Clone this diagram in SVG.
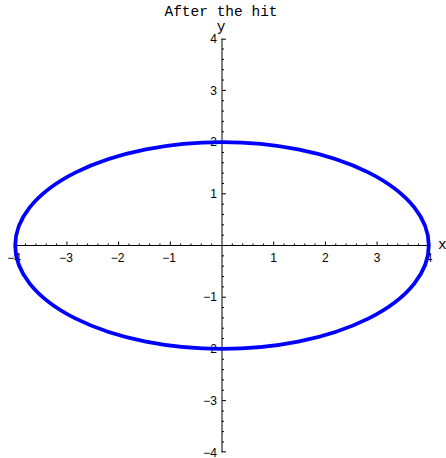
<svg xmlns="http://www.w3.org/2000/svg" width="446" height="458" viewBox="0 0 446 458">
<style>
.ax{stroke:#000;stroke-width:1;fill:none}
.num{font-family:"Liberation Sans",Arial,sans-serif;font-size:12px;fill:#000}
.mono{font-family:"Liberation Mono","Courier New",monospace;font-size:14.5px;fill:#000}
.xl{text-anchor:middle}
.yl{text-anchor:end}
</style>
<rect width="446" height="458" fill="#fff"/>
<text class="mono" x="221" y="16" text-anchor="middle">After the hit</text>
<g id="axes">
<line class="ax" x1="15.2" y1="245.5" x2="428.8" y2="245.5"/>
<line class="ax" x1="222" y1="38.7" x2="222" y2="452.3"/>
<path class="ax" d="M25.54 245.5v-2M35.88 245.5v-2M46.22 245.5v-2M56.56 245.5v-2M77.24 245.5v-2M87.58 245.5v-2M97.92 245.5v-2M108.26 245.5v-2M128.94 245.5v-2M139.28 245.5v-2M149.62 245.5v-2M159.96 245.5v-2M180.64 245.5v-2M190.98 245.5v-2M201.32 245.5v-2M211.66 245.5v-2M232.34 245.5v-2M242.68 245.5v-2M253.02 245.5v-2M263.36 245.5v-2M284.04 245.5v-2M294.38 245.5v-2M304.72 245.5v-2M315.06 245.5v-2M335.74 245.5v-2M346.08 245.5v-2M356.42 245.5v-2M366.76 245.5v-2M387.44 245.5v-2M397.78 245.5v-2M408.12 245.5v-2M418.46 245.5v-2"/>
<path class="ax" d="M15.7 245.5v-4M66.9 245.5v-4M118.6 245.5v-4M170.3 245.5v-4M273.7 245.5v-4M325.4 245.5v-4M377.1 245.5v-4M428.3 245.5v-4"/>
<path class="ax" d="M222 49.04h2M222 59.38h2M222 69.72h2M222 80.06h2M222 100.74h2M222 111.08h2M222 121.42h2M222 131.76h2M222 152.44h2M222 162.78h2M222 173.12h2M222 183.46h2M222 204.14h2M222 214.48h2M222 224.82h2M222 235.16h2M222 255.84h2M222 266.18h2M222 276.52h2M222 286.86h2M222 307.54h2M222 317.88h2M222 328.22h2M222 338.56h2M222 359.24h2M222 369.58h2M222 379.92h2M222 390.26h2M222 410.94h2M222 421.28h2M222 431.62h2M222 441.96h2"/>
<path class="ax" d="M221.5 39.2h4.5M222 90.4h4M222 142.1h4M222 193.8h4M222 297.2h4M222 348.9h4M222 400.6h4M221.5 451.8h4.5"/>
<text class="mono" x="221" y="31" text-anchor="middle">y</text>
<text class="mono" x="438" y="249">x</text>
<g class="num xl">
<text x="14" y="262">−4</text>
<text x="66" y="262">−3</text>
<text x="117.5" y="262">−2</text>
<text x="169" y="262">−1</text>
<text x="273.7" y="262">1</text>
<text x="325.4" y="262">2</text>
<text x="377.1" y="262">3</text>
<text x="429" y="262">4</text>
</g>
<g class="num yl">
<text x="217" y="43">4</text>
<text x="217" y="94.6">3</text>
<text x="217" y="146.3">2</text>
<text x="217" y="198">1</text>
<text x="217" y="301.4">−1</text>
<text x="217" y="353.1">−2</text>
<text x="217" y="404.8">−3</text>
<text x="217" y="456.5">−4</text>
</g>
</g>
<g id="curve">
<ellipse cx="222" cy="245.5" rx="206.8" ry="103.4" fill="none" stroke="#0000FF" stroke-width="3.8"/>
</g>
</svg>
